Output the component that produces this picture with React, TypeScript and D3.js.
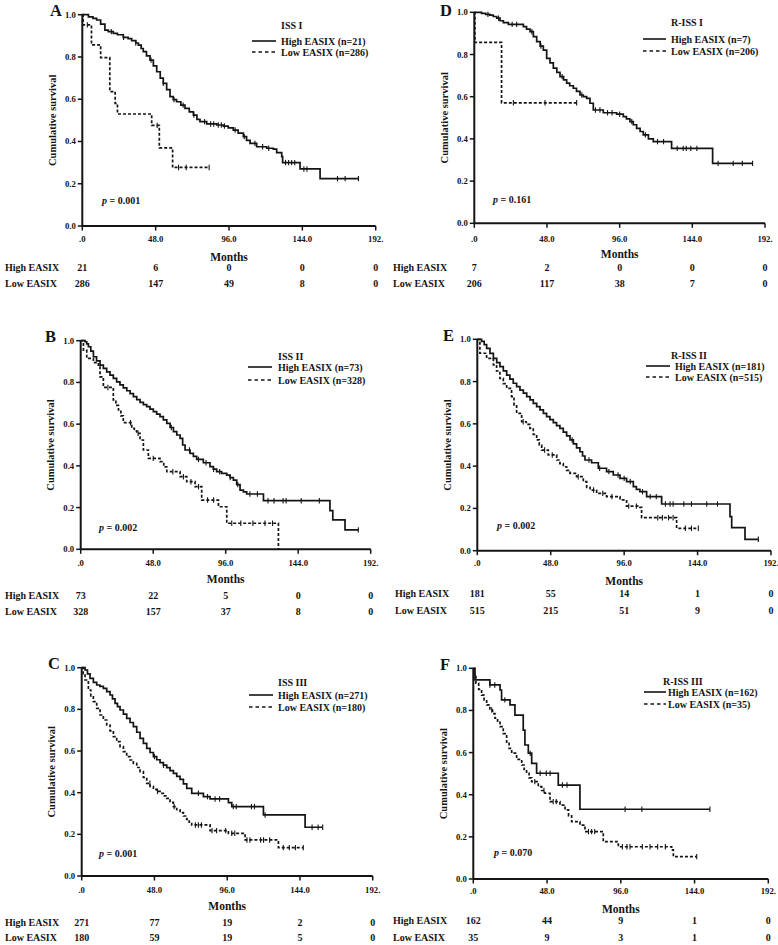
import React from "react";
import * as d3 from "d3";

// ---------- DATA ----------
const timeTicks = [0, 48, 96, 144, 192];
const timeTickLabels = [".0", "48.0", "96.0", "144.0", "192."];
const survTicks = [0, 0.2, 0.4, 0.6, 0.8, 1.0];
const survTickLabels = ["0.0", "0.2", "0.4", "0.6", "0.8", "1.0"];
const panelLetters = ["A", "D", "B", "E", "C", "F"];
const stageNames = ["ISS I", "R-ISS I", "ISS II", "R-ISS II", "ISS III", "R-ISS III"];
const pValues = ["0.001", "0.161", "0.002", "0.002", "0.001", "0.070"];
const nHigh = [21, 7, 73, 181, 271, 162];
const nLow = [286, 206, 328, 515, 180, 35];

const riskHighA = [21, 6, 0, 0, 0];
const riskLowA = [286, 147, 49, 8, 0];
const riskHighD = [7, 2, 0, 0, 0];
const riskLowD = [206, 117, 38, 7, 0];
const riskHighB = [73, 22, 5, 0, 0];
const riskLowB = [328, 157, 37, 8, 0];
const riskHighE = [181, 55, 14, 1, 0];
const riskLowE = [515, 215, 51, 9, 0];
const riskHighC = [271, 77, 19, 2, 0];
const riskLowC = [180, 59, 19, 5, 0];
const riskHighF = [162, 44, 9, 1, 0];
const riskLowF = [35, 9, 3, 1, 0];

// KM events: [month, survival after drop]
const highA = [[4,0.99],[7,0.983],[9.4,0.975],[12,0.955],[14.8,0.927],[17,0.92],[20.3,0.912],[23,0.905],[26.8,0.893],[30,0.887],[32.3,0.877],[35,0.866],[36.7,0.856],[38.5,0.84],[39.9,0.825],[42,0.805],[44.3,0.785],[46.5,0.758],[48.7,0.73],[51,0.7],[53,0.675],[55.2,0.645],[57.4,0.612],[59.5,0.598],[61.7,0.588],[64.5,0.572],[67.2,0.557],[70,0.54],[72.7,0.525],[75,0.505],[77,0.494],[81.4,0.483],[88,0.478],[92.3,0.473],[95.5,0.464],[98.8,0.454],[102,0.44],[105.4,0.423],[107.5,0.405],[109.8,0.391],[114.1,0.375],[120.7,0.368],[125,0.364],[127.2,0.347],[130.5,0.328],[131.1,0.3],[142.5,0.27],[155.6,0.224]];
const highAEnd = 180.7;
const highACens = [19,27,35,45,53,60,66,73,80,84,86,89,91,93,100,106,113,118,122,133,135,137,139,145,147,167,172,180.7];
const lowA = [[0.5,0.952],[6,0.857],[12,0.797],[18,0.636],[21.5,0.58],[23,0.53],[45.4,0.476],[50.4,0.37],[59.1,0.277]];
const lowAEnd = 83;
const lowACens = [3.3,49,63,68,83];

const highD = [[4.8,0.995],[7.5,0.99],[10.3,0.987],[12.5,0.98],[14.8,0.972],[17,0.96],[19.2,0.951],[22.5,0.943],[32.4,0.932],[34.5,0.92],[36.8,0.908],[39,0.885],[41.2,0.861],[43.5,0.84],[45.6,0.821],[47.8,0.782],[50,0.76],[52.2,0.735],[54.5,0.715],[56.6,0.695],[59,0.68],[61,0.664],[63,0.652],[65.4,0.64],[67.5,0.625],[69.8,0.608],[72,0.6],[74.2,0.592],[76.4,0.569],[78.6,0.537],[85.2,0.524],[94,0.517],[98.4,0.506],[100.5,0.495],[102.8,0.482],[105,0.467],[107.2,0.45],[109.5,0.435],[111.6,0.419],[115,0.4],[118.2,0.387],[130.3,0.355],[157.4,0.284]];
const highDEnd = 183.8;
const highDCens = [9,16,25,28,38,44,58,71,80,83,88,91,96,104,113,121,125,134,138,140,143,147,161,171,177,183.8];
const lowD = [[0.4,0.857],[18,0.571]];
const lowDEnd = 67.6;
const lowDCens = [25.8,46.7,67.6];

const highB = [[2.9,0.995],[4,0.985],[5.1,0.971],[6.7,0.95],[8.4,0.923],[10.5,0.903],[12.8,0.883],[15,0.867],[17.2,0.851],[19.4,0.835],[21.6,0.819],[23.8,0.803],[26,0.788],[28.2,0.774],[30.5,0.76],[32.7,0.746],[34.9,0.732],[37.1,0.718],[39.3,0.704],[41.5,0.694],[43.7,0.684],[45.9,0.672],[48.1,0.66],[50.3,0.648],[52.5,0.636],[54.7,0.62],[57,0.604],[59.2,0.584],[61.4,0.564],[63.6,0.548],[65.8,0.532],[67.5,0.5],[69.1,0.476],[72.4,0.46],[74.6,0.445],[76.8,0.431],[81.2,0.415],[85.6,0.396],[87.8,0.384],[90,0.372],[93.3,0.364],[96.7,0.356],[98.9,0.344],[101.1,0.332],[103.3,0.31],[105.5,0.284],[107.7,0.275],[109.9,0.265],[121,0.233],[165,0.185],[166.9,0.141],[175,0.093]];
const highBEnd = 183.8;
const highBCens = [60,72,78,83,88,92,99,104,112,117,124,128,134,136,146,158,183.8];
const lowB = [[1.8,0.955],[4,0.915],[8.4,0.895],[11.7,0.883],[12.8,0.827],[15,0.776],[21.6,0.716],[23.3,0.69],[25,0.668],[26.6,0.64],[28.2,0.607],[33.8,0.58],[35.5,0.568],[37.1,0.556],[39.3,0.524],[41.5,0.476],[44.8,0.436],[52.5,0.42],[55,0.395],[57,0.372],[65.8,0.348],[70.2,0.324],[75.7,0.3],[80.1,0.236],[91.2,0.204],[96.7,0.125],[130.9,0]];
const lowBEnd = 130.9;
const lowBCens = [18,33,38,48,61,68,73,78,84,88,100,106,114,122,127];

const highE = [[2.8,0.99],[4.5,0.975],[6.1,0.957],[8.3,0.933],[10.5,0.91],[12.7,0.89],[14.8,0.871],[17,0.851],[19.2,0.831],[21.3,0.812],[23.5,0.792],[25.7,0.776],[27.9,0.76],[30.1,0.745],[32.3,0.729],[34.5,0.713],[36.6,0.697],[38.8,0.682],[41,0.666],[43.2,0.65],[45.3,0.634],[47.5,0.62],[49.7,0.606],[51.8,0.592],[54,0.579],[56.2,0.561],[58.4,0.543],[60.6,0.524],[62.8,0.505],[64.9,0.486],[67.1,0.468],[68.8,0.448],[70.4,0.429],[74.7,0.416],[79.1,0.39],[84.5,0.374],[88.9,0.358],[93.3,0.342],[97.6,0.327],[102,0.303],[104,0.29],[106.3,0.279],[110.7,0.256],[120.5,0.221],[165.2,0.161],[166.3,0.109],[175,0.054]];
const highEEnd = 183.7;
const highECens = [62,73,80,86,92,96,100,108,113,117,123,126,128,135,140,150,157,183.7];
const lowE = [[1.7,0.934],[6.1,0.91],[10.5,0.879],[12.6,0.85],[14.8,0.815],[17,0.79],[19.2,0.768],[22.4,0.729],[24,0.69],[25.7,0.65],[29,0.61],[32,0.598],[34.4,0.579],[36.6,0.55],[38.8,0.524],[40.5,0.5],[42.1,0.476],[46.4,0.453],[51.9,0.429],[54,0.412],[56.2,0.397],[58.4,0.38],[60.6,0.366],[64.9,0.35],[69.3,0.327],[71.5,0.3],[73.7,0.287],[78,0.271],[84.5,0.256],[93.3,0.24],[97.6,0.211],[106.3,0.205],[107.4,0.156],[130.3,0.106]];
const lowEEnd = 144.5;
const lowECens = [30,44,49,66,76,82,88,99,104,118,121,125,128,136,140,144.5];

const highC = [[2.2,0.989],[3.8,0.97],[5.5,0.949],[7.7,0.93],[9.9,0.917],[12,0.91],[14.3,0.901],[16.5,0.885],[18.7,0.869],[20.3,0.85],[22,0.829],[23.6,0.813],[25.3,0.797],[27.5,0.777],[29.7,0.757],[31.9,0.737],[34.1,0.717],[36.3,0.69],[38.5,0.661],[40.7,0.637],[42.9,0.613],[45.1,0.593],[47.3,0.573],[49.5,0.558],[51.7,0.544],[53.9,0.532],[56.1,0.52],[58.3,0.506],[60.5,0.493],[62.7,0.478],[64.9,0.464],[67.1,0.442],[69.3,0.421],[72.6,0.397],[80.3,0.381],[84.7,0.37],[96.8,0.352],[99,0.333],[119.9,0.293],[147.4,0.234]];
const highCEnd = 159;
const highCCens = [48,54,77,83,88,91,100,102,112,114,121,152,156,159];
const lowC = [[1,0.97],[2.2,0.941],[4.4,0.893],[6,0.865],[7.7,0.837],[9.9,0.805],[12.1,0.773],[14.3,0.749],[16.5,0.725],[18.7,0.697],[20.9,0.669],[23.1,0.645],[25.3,0.621],[27.5,0.597],[29.7,0.573],[31.9,0.557],[34.1,0.541],[36.3,0.521],[38.5,0.501],[40.7,0.473],[42.9,0.445],[45.1,0.43],[47.3,0.416],[49.5,0.406],[51.7,0.397],[53.9,0.385],[56.1,0.373],[58.3,0.353],[60.5,0.333],[62.7,0.318],[64.9,0.304],[67.1,0.288],[69.3,0.272],[70.9,0.258],[72.6,0.245],[84.7,0.218],[96.8,0.205],[107.8,0.173],[129.8,0.136]];
const lowCEnd = 146.2;
const lowCCens = [45,50,61,75,77,79,86,89,95,99,101,109,111,118,120,124,133,137,141,146.2];

const highF = [[1.1,0.945],[10.8,0.921],[17.4,0.897],[18.4,0.85],[23.9,0.826],[27.1,0.778],[32.5,0.707],[33.6,0.636],[35.8,0.597],[38,0.549],[41.2,0.502],[55.3,0.446],[69.4,0.331]];
const highFEnd = 154;
const highFCens = [10.8,14,20.5,37,43.5,47.5,50,58,61,98.8,109.7,154];
const lowF = [[0.7,0.968],[1.7,0.929],[3.5,0.9],[5.4,0.873],[7,0.85],[8.7,0.826],[10.8,0.802],[12.5,0.785],[14.1,0.763],[15.8,0.743],[17.4,0.723],[19.5,0.69],[21.7,0.644],[23.3,0.62],[25,0.597],[28.2,0.568],[31.5,0.541],[33.1,0.52],[34.7,0.502],[36.3,0.48],[38,0.462],[42.3,0.438],[44.5,0.42],[46.6,0.407],[49.9,0.367],[56.4,0.351],[59.7,0.328],[62,0.3],[64,0.272],[69.4,0.256],[72.7,0.225],[84.6,0.177],[94.4,0.153],[129.1,0.138],[130.2,0.106]];
const lowFEnd = 145.4;
const lowFCens = [12,40,46,52,54,75,77,79,97,100,102,110,115,120,125,145.4];

// ---------- LAYOUT ----------
const layouts = [
  { x0: 82.3, x1: 375.7, yT: 14.7, yB: 226, letter: [50, 15.5], legX: 281, legTX: 281, legLine: [252, 276], legY: [25, 41, 52], p: [102, 200], tickY: 239, monthsY: 257, riskY: [267, 283], labelX: 5 },
  { x0: 474.3, x1: 765, yT: 12.3, yB: 223.3, letter: [440, 15.5], legX: 671, legTX: 671, legLine: [643, 666], legY: [22, 39, 51], p: [493, 199], tickY: 239, monthsY: 254, riskY: [267, 283], labelX: 393 },
  { x0: 80.7, x1: 370.7, yT: 340.7, yB: 549.3, letter: [45, 342], legX: 278, legTX: 278, legLine: [248, 272], legY: [356, 367, 380], p: [99, 527], tickY: 563, monthsY: 579, riskY: [595, 611], labelX: 5 },
  { x0: 477.3, x1: 771, yT: 339.3, yB: 550.7, letter: [443, 341], legX: 675, legTX: 671, legLine: [646, 670], legY: [355, 366, 377], p: [497, 525], tickY: 563, monthsY: 581, riskY: [593, 610], labelX: 395 },
  { x0: 81.7, x1: 372.7, yT: 667.7, yB: 876, letter: [48, 669], legX: 278, legTX: 278, legLine: [249, 273], legY: [682, 695, 707], p: [99, 853], tickY: 890, monthsY: 906, riskY: [922, 937], labelX: 5 },
  { x0: 473.3, x1: 768.3, yT: 668.3, yB: 879, letter: [440, 670], legX: 668, legTX: 663, legLine: [644, 666], legY: [681, 692, 704], p: [494, 852], tickY: 891, monthsY: 909, riskY: [920, 937], labelX: 393 },
];

const curves = [
  { high: highA, highEnd: highAEnd, highCens: highACens, low: lowA, lowEnd: lowAEnd, lowCens: lowACens, rh: riskHighA, rl: riskLowA },
  { high: highD, highEnd: highDEnd, highCens: highDCens, low: lowD, lowEnd: lowDEnd, lowCens: lowDCens, rh: riskHighD, rl: riskLowD },
  { high: highB, highEnd: highBEnd, highCens: highBCens, low: lowB, lowEnd: lowBEnd, lowCens: lowBCens, rh: riskHighB, rl: riskLowB },
  { high: highE, highEnd: highEEnd, highCens: highECens, low: lowE, lowEnd: lowEEnd, lowCens: lowECens, rh: riskHighE, rl: riskLowE },
  { high: highC, highEnd: highCEnd, highCens: highCCens, low: lowC, lowEnd: lowCEnd, lowCens: lowCCens, rh: riskHighC, rl: riskLowC },
  { high: highF, highEnd: highFEnd, highCens: highFCens, low: lowF, lowEnd: lowFEnd, lowCens: lowFCens, rh: riskHighF, rl: riskLowF },
];

const FONT = "'Liberation Serif', 'Times New Roman', serif";
const INK = "#141414";

function survAt(events: number[][], t: number) {
  let s = 1;
  for (const e of events) {
    if (e[0] <= t) s = e[1];
    else break;
  }
  return s;
}

function Curve({ events, end, cens, x, y, dashed }: any) {
  const pts: [number, number][] = [[0, 1], ...events.map((e: number[]) => [e[0], e[1]] as [number, number])];
  const last = pts[pts.length - 1];
  if (end > last[0]) pts.push([end, last[1]]);
  const line = d3
    .line<[number, number]>()
    .x((d) => x(d[0]))
    .y((d) => y(d[1]))
    .curve(d3.curveStepAfter);
  return (
    <g>
      <path d={line(pts) || ""} fill="none" stroke={INK} strokeWidth={1.7} strokeDasharray={dashed ? "3,2" : undefined} />
      {cens.map((t: number, i: number) => {
        const s = survAt(events, t);
        return <line key={i} x1={x(t)} x2={x(t)} y1={y(s) - 2.7} y2={y(s) + 2.7} stroke={INK} strokeWidth={1.1} />;
      })}
    </g>
  );
}

function Panel({ idx }: { idx: number }) {
  const L = layouts[idx];
  const C = curves[idx];
  const x = d3.scaleLinear().domain([0, 192]).range([L.x0, L.x1]);
  const y = d3.scaleLinear().domain([0, 1]).range([L.yB, L.yT]);
  const midY = (L.yT + L.yB) / 2;
  return (
    <g fontFamily={FONT} fontWeight="bold" fill={INK}>
      <text x={L.letter[0]} y={L.letter[1]} fontSize={16.5}>{panelLetters[idx]}</text>
      {/* axes */}
      <line x1={L.x0} x2={L.x0} y1={y(1)} y2={y(0)} stroke={INK} strokeWidth={2} />
      <line x1={L.x0} x2={x(192)} y1={L.yB} y2={L.yB} stroke={INK} strokeWidth={2} />
      {survTicks.map((v, i) => (
        <g key={"y" + i}>
          <line x1={L.x0 - 4.5} x2={L.x0} y1={y(v)} y2={y(v)} stroke={INK} strokeWidth={1.5} />
          <text x={L.x0 - 6.5} y={y(v)} fontSize={8.7} textAnchor="end" dominantBaseline="central">{survTickLabels[i]}</text>
        </g>
      ))}
      {timeTicks.map((v, i) => (
        <g key={"x" + i}>
          <line x1={x(v)} x2={x(v)} y1={L.yB} y2={L.yB + 4.5} stroke={INK} strokeWidth={1.5} />
          <text x={x(v)} y={L.tickY} fontSize={8.7} textAnchor="middle" dominantBaseline="central">{timeTickLabels[i]}</text>
        </g>
      ))}
      <text transform={`translate(${L.x0 - 30},${midY}) rotate(-90)`} fontSize={10.5} textAnchor="middle" dominantBaseline="central">Cumulative survival</text>
      <text x={(L.x0 + L.x1) / 2} y={L.monthsY} fontSize={11.5} textAnchor="middle" dominantBaseline="central">Months</text>
      {/* curves */}
      <Curve events={C.low} end={C.lowEnd} cens={C.lowCens} x={x} y={y} dashed />
      <Curve events={C.high} end={C.highEnd} cens={C.highCens} x={x} y={y} />
      {/* legend */}
      <text x={L.legTX} y={L.legY[0]} fontSize={10} dominantBaseline="central">{stageNames[idx]}</text>
      <line x1={L.legLine[0]} x2={L.legLine[1]} y1={L.legY[1]} y2={L.legY[1]} stroke={INK} strokeWidth={1.6} />
      <text x={L.legX} y={L.legY[1]} fontSize={10} dominantBaseline="central">{`High EASIX (n=${nHigh[idx]})`}</text>
      <line x1={L.legLine[0]} x2={L.legLine[1]} y1={L.legY[2]} y2={L.legY[2]} stroke={INK} strokeWidth={1.6} strokeDasharray="3.5,3" />
      <text x={L.legX} y={L.legY[2]} fontSize={10} dominantBaseline="central">{`Low EASIX (n=${nLow[idx]})`}</text>
      {/* p value */}
      <text x={L.p[0]} y={L.p[1]} fontSize={10} dominantBaseline="central">
        <tspan fontStyle="italic">p</tspan>
        <tspan>{` = ${pValues[idx]}`}</tspan>
      </text>
      {/* risk table */}
      <text x={L.labelX} y={L.riskY[0]} fontSize={10} dominantBaseline="central">High EASIX</text>
      <text x={L.labelX} y={L.riskY[1]} fontSize={10} dominantBaseline="central">Low EASIX</text>
      {C.rh.map((v: number, i: number) => (
        <text key={"rh" + i} x={x(timeTicks[i])} y={L.riskY[0]} fontSize={10} textAnchor="middle" dominantBaseline="central">{v}</text>
      ))}
      {C.rl.map((v: number, i: number) => (
        <text key={"rl" + i} x={x(timeTicks[i])} y={L.riskY[1]} fontSize={10} textAnchor="middle" dominantBaseline="central">{v}</text>
      ))}
    </g>
  );
}

export default function App() {
  return (
    <svg width={778} height={945} style={{ position: "absolute", left: 0, top: 0, background: "#fff" }}>
      <rect width={778} height={945} fill="#fff" />
      {layouts.map((_, i) => (
        <Panel key={i} idx={i} />
      ))}
    </svg>
  );
}
